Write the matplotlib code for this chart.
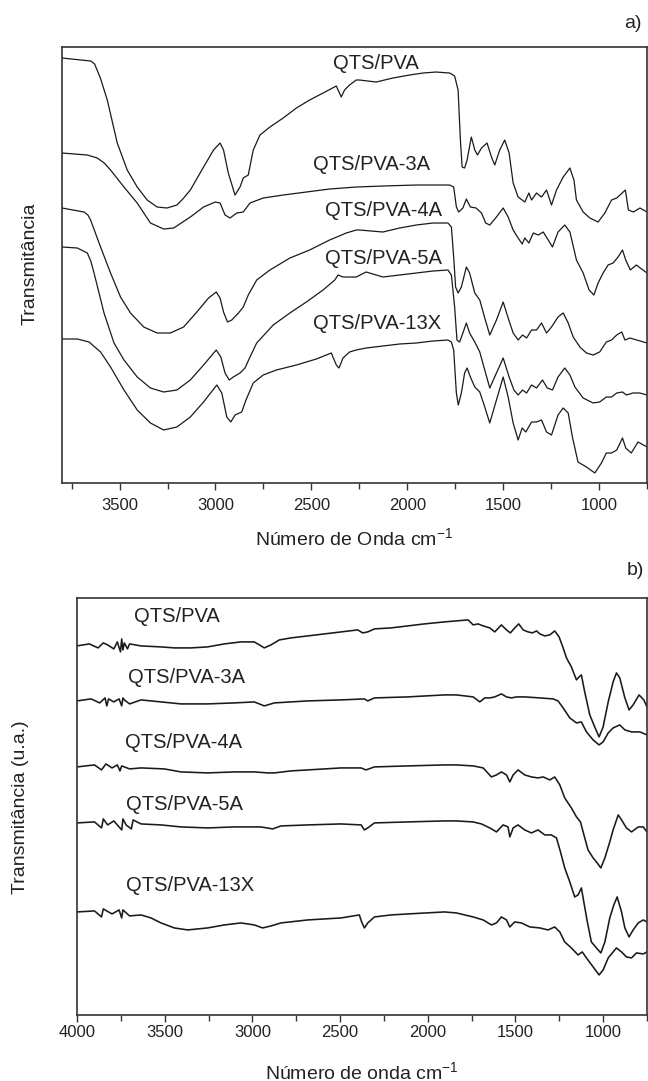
import matplotlib
matplotlib.use("Agg")
import matplotlib.pyplot as plt
from matplotlib.ticker import MultipleLocator

plt.rcParams['font.family'] = ['Liberation Sans', 'DejaVu Sans']
plt.rcParams['mathtext.default'] = 'regular'

# ---- panel a) FTIR spectra (wavenumber cm-1, transmittance in arbitrary units) ----
a_pva_wn = [3800, 3650, 3630, 3600, 3564, 3512, 3460, 3408, 3356, 3304, 3253, 3201, 3170, 3131, 3062, 3010, 2976,
            2958, 2933, 2898, 2872, 2855, 2829, 2803, 2768, 2716, 2647, 2578, 2509, 2439, 2370, 2344, 2327, 2301,
            2266, 2249, 2162, 2075, 1988, 1918, 1849, 1779, 1753, 1735, 1723, 1714, 1701, 1688, 1666, 1648, 1634,
            1613, 1584, 1561, 1544, 1518, 1492, 1469, 1448, 1422, 1387, 1366, 1352, 1326, 1300, 1274, 1248, 1222,
            1187, 1152, 1131, 1118, 1083, 1048, 1005, 970, 935, 908, 863, 847, 821, 787, 750]
a_pva = [425, 422, 419, 405, 383, 340, 313, 296, 283, 276, 275, 278, 284, 293, 316, 333, 340, 333, 310, 288, 296,
         305, 308, 333, 348, 356, 365, 375, 383, 390, 397, 386, 393, 398, 403, 403, 401, 405, 408, 410, 411, 410,
         407, 393, 343, 316, 315, 323, 346, 333, 328, 335, 340, 326, 318, 333, 343, 330, 300, 286, 281, 290, 283,
         290, 286, 293, 278, 293, 306, 315, 303, 283, 271, 265, 261, 270, 283, 285, 293, 273, 271, 275, 271]

a_3a_wn = [3800, 3668, 3616, 3580, 3547, 3477, 3408, 3339, 3270, 3218, 3131, 3062, 3001, 2976, 2950, 2924, 2889,
           2855, 2820, 2751, 2647, 2526, 2405, 2266, 2127, 1953, 1779, 1758, 1744, 1732, 1710, 1692, 1671, 1641,
           1613, 1591, 1570, 1535, 1500, 1474, 1448, 1422, 1401, 1387, 1366, 1343, 1317, 1291, 1265, 1243, 1214,
           1179, 1152, 1118, 1083, 1052, 1027, 1005, 979, 953, 927, 901, 878, 861, 837, 806, 750]
a_3a = [330, 328, 325, 320, 313, 296, 280, 260, 254, 255, 266, 276, 281, 280, 268, 265, 270, 271, 280, 285, 288,
        291, 294, 296, 297, 298, 298, 296, 276, 271, 275, 284, 276, 275, 270, 260, 258, 266, 275, 266, 253, 245,
        239, 245, 240, 250, 248, 251, 243, 236, 251, 258, 251, 223, 210, 193, 188, 200, 210, 218, 220, 226, 233,
        223, 213, 218, 210]

a_4a_wn = [3800, 3685, 3665, 3651, 3599, 3547, 3495, 3443, 3374, 3304, 3235, 3166, 3097, 3036, 2996, 2976, 2958,
           2937, 2915, 2880, 2855, 2829, 2785, 2716, 2612, 2509, 2405, 2318, 2266, 2249, 2127, 2040, 1953, 1866,
           1788, 1770, 1758, 1748, 1735, 1718, 1692, 1675, 1648, 1622, 1596, 1570, 1535, 1500, 1474, 1448, 1422,
           1399, 1378, 1352, 1326, 1300, 1274, 1248, 1214, 1187, 1161, 1135, 1100, 1066, 1031, 997, 962, 935, 908,
           882, 865, 839, 804, 750]
a_4a = [275, 271, 268, 263, 236, 210, 186, 170, 156, 150, 150, 156, 171, 185, 191, 185, 171, 161, 163, 170, 176,
        188, 203, 213, 225, 233, 243, 250, 253, 253, 251, 255, 258, 260, 260, 256, 226, 196, 190, 196, 216, 210,
        190, 183, 165, 148, 163, 181, 165, 150, 143, 148, 145, 153, 153, 160, 150, 156, 166, 170, 160, 146, 136,
        130, 128, 131, 141, 143, 148, 151, 143, 145, 143, 140]

a_5a_wn = [3800, 3720, 3668, 3650, 3633, 3581, 3529, 3477, 3408, 3339, 3270, 3201, 3131, 3062, 2996, 2972, 2950,
           2928, 2907, 2872, 2846, 2820, 2785, 2699, 2612, 2526, 2439, 2378, 2361, 2335, 2266, 2214, 2127, 2040,
           1953, 1866, 1788, 1770, 1753, 1741, 1727, 1710, 1692, 1675, 1648, 1622, 1596, 1570, 1535, 1500, 1469,
           1444, 1422, 1399, 1378, 1352, 1326, 1295, 1270, 1243, 1214, 1179, 1152, 1126, 1083, 1031, 997, 962, 935,
           908, 878, 858, 823, 788, 750]
a_5a = [236, 235, 230, 222, 210, 170, 140, 123, 106, 95, 91, 93, 103, 118, 133, 126, 110, 103, 106, 110, 115, 126,
        140, 158, 170, 181, 193, 203, 208, 206, 206, 211, 206, 208, 210, 212, 213, 208, 176, 143, 141, 150, 160,
        150, 141, 131, 113, 95, 110, 125, 106, 93, 88, 93, 90, 98, 95, 103, 95, 93, 106, 115, 108, 96, 85, 80, 81,
        86, 86, 90, 91, 88, 90, 90, 88]

a_13x_wn = [3800, 3720, 3659, 3599, 3547, 3477, 3408, 3339, 3270, 3201, 3131, 3062, 2993, 2967, 2941, 2920, 2898,
            2863, 2841, 2803, 2751, 2682, 2578, 2474, 2396, 2370, 2356, 2335, 2301, 2266, 2214, 2127, 2040, 1953,
            1866, 1788, 1770, 1758, 1744, 1734, 1718, 1701, 1688, 1671, 1648, 1622, 1596, 1570, 1535, 1500, 1474,
            1448, 1422, 1401, 1382, 1352, 1326, 1300, 1274, 1248, 1214, 1187, 1161, 1139, 1110, 1066, 1022, 988,
            962, 935, 908, 878, 861, 832, 797, 750]
a_13x = [144, 144, 141, 131, 116, 93, 73, 60, 53, 56, 66, 81, 98, 90, 66, 61, 68, 71, 83, 100, 108, 113, 118, 124,
         130, 118, 115, 125, 131, 133, 135, 137, 139, 140, 142, 143, 141, 133, 90, 78, 90, 110, 115, 106, 96, 91,
         76, 60, 83, 106, 86, 60, 43, 55, 51, 61, 61, 63, 51, 48, 68, 75, 70, 46, 21, 16, 10, 20, 30, 30, 33, 45,
         35, 30, 41, 36]

# ---- panel b) ----
b_pva_wn = [4000, 3930, 3880, 3850, 3825, 3790, 3770, 3752, 3745, 3738, 3730, 3712, 3700, 3635, 3521, 3445, 3350,
            3255, 3160, 3065, 2989, 2960, 2932, 2894, 2846, 2780, 2684, 2589, 2494, 2399, 2371, 2342, 2304, 2209,
            2114, 2019, 1905, 1837, 1770, 1741, 1713, 1684, 1646, 1618, 1580, 1551, 1529, 1504, 1481, 1456, 1428,
            1403, 1380, 1361, 1333, 1304, 1276, 1251, 1228, 1209, 1181, 1152, 1137, 1124, 1105, 1076, 1048, 1023,
            1000, 971, 943, 924, 905, 876, 852, 829, 795, 768, 750]
b_pva = [369, 371, 367, 372, 370, 366, 373, 363, 376, 365, 372, 366, 371, 369, 368, 367, 367, 368, 371, 373, 373,
         370, 367, 370, 375, 377, 379, 381, 383, 385, 382, 383, 386, 387, 389, 391, 393, 394, 395, 390, 391, 389,
         387, 383, 390, 385, 382, 387, 391, 385, 383, 382, 384, 381, 379, 380, 384, 378, 367, 357, 348, 335, 338,
         340, 323, 300, 288, 278, 288, 313, 333, 342, 337, 317, 305, 310, 320, 315, 308]

b_3a_wn = [4000, 3920, 3870, 3840, 3830, 3820, 3790, 3760, 3745, 3738, 3730, 3700, 3635, 3521, 3407, 3255, 3103,
           2989, 2932, 2875, 2684, 2494, 2361, 2342, 2304, 2114, 1905, 1837, 1741, 1703, 1675, 1646, 1618, 1580,
           1551, 1523, 1494, 1447, 1361, 1285, 1257, 1228, 1190, 1152, 1124, 1095, 1057, 1023, 1000, 971, 943, 905,
           876, 838, 790, 750]
b_3a = [314, 316, 312, 317, 309, 316, 313, 316, 309, 317, 315, 311, 315, 313, 311, 311, 312, 313, 309, 312, 314,
        315, 316, 314, 317, 318, 320, 320, 318, 313, 317, 317, 318, 321, 318, 317, 318, 318, 317, 316, 314, 307,
        297, 292, 293, 283, 275, 270, 273, 282, 287, 290, 285, 283, 283, 280]

b_4a_wn = [4000, 3900, 3860, 3835, 3800, 3770, 3755, 3745, 3700, 3635, 3502, 3407, 3255, 3103, 2989, 2913, 2875,
           2780, 2684, 2494, 2380, 2352, 2304, 2114, 1905, 1837, 1741, 1684, 1637, 1608, 1580, 1551, 1532, 1513,
           1485, 1447, 1409, 1371, 1342, 1304, 1276, 1247, 1219, 1181, 1152, 1129, 1114, 1086, 1057, 1038, 1013,
           990, 962, 943, 914, 895, 867, 838, 800, 771, 750]
b_4a = [248, 250, 245, 251, 247, 250, 244, 249, 246, 247, 246, 243, 242, 243, 243, 242, 242, 244, 245, 247, 247,
        245, 248, 249, 250, 250, 249, 247, 238, 240, 243, 240, 233, 240, 245, 240, 238, 237, 238, 235, 238, 230,
        217, 207, 198, 193, 183, 165, 157, 153, 147, 157, 173, 185, 200, 195, 187, 183, 188, 188, 183]

b_5a_wn = [4000, 3900, 3860, 3850, 3825, 3790, 3760, 3745, 3738, 3720, 3690, 3680, 3635, 3521, 3407, 3255, 3103,
           2951, 2884, 2837, 2684, 2494, 2380, 2361, 2342, 2304, 2114, 1905, 1837, 1741, 1694, 1646, 1608, 1570,
           1542, 1532, 1513, 1485, 1447, 1409, 1371, 1333, 1295, 1266, 1243, 1219, 1190, 1162, 1143, 1124, 1110,
           1090, 1067, 1038, 1013, 990, 962, 939, 920, 895, 876, 852, 829, 800, 771, 750]
b_5a = [192, 193, 187, 196, 190, 194, 188, 185, 196, 190, 186, 195, 191, 190, 188, 187, 188, 188, 186, 189, 190,
        191, 190, 185, 187, 192, 193, 194, 194, 193, 191, 187, 183, 190, 188, 178, 187, 190, 185, 182, 185, 180,
        180, 177, 163, 147, 133, 118, 120, 127, 113, 93, 73, 67, 62, 73, 97, 110, 118, 103, 87, 78, 85, 92, 95, 93]

b_13x_wn = [4000, 3900, 3860, 3850, 3800, 3760, 3745, 3738, 3700, 3635, 3578, 3521, 3445, 3369, 3255, 3160, 3065,
            2989, 2941, 2894, 2837, 2684, 2494, 2390, 2377, 2361, 2342, 2304, 2209, 2114, 1905, 1837, 1741, 1684,
            1637, 1608, 1580, 1551, 1532, 1504, 1466, 1418, 1361, 1314, 1276, 1247, 1219, 1181, 1143, 1119, 1095,
            1057, 1023, 1000, 971, 943, 924, 895, 867, 838, 810, 771, 750]
b_13x = [103, 104, 98, 106, 101, 105, 97, 105, 99, 100, 97, 92, 87, 85, 87, 90, 92, 90, 87, 89, 92, 95, 97, 100,
         93, 87, 92, 98, 100, 101, 103, 102, 98, 95, 90, 92, 98, 95, 88, 93, 92, 88, 87, 85, 88, 83, 73, 67, 60,
         63, 57, 48, 40, 45, 57, 63, 67, 63, 58, 57, 62, 61, 63]

# sample names and where their labels sit (wavenumber, transmittance)
names = ['QTS/PVA', 'QTS/PVA-3A', 'QTS/PVA-4A', 'QTS/PVA-5A', 'QTS/PVA-13X']
a_label_wn = [2163, 2184, 2126, 2126, 2158]
a_label_y = [420, 319, 273, 225, 160]
b_label_wn = [3430, 3373, 3390, 3390, 3355]
b_label_y = [398, 337, 272, 210, 129]

a_curves = [(a_pva_wn, a_pva), (a_3a_wn, a_3a), (a_4a_wn, a_4a), (a_5a_wn, a_5a), (a_13x_wn, a_13x)]
b_curves = [(b_pva_wn, b_pva), (b_3a_wn, b_3a), (b_4a_wn, b_4a), (b_5a_wn, b_5a), (b_13x_wn, b_13x)]

fig = plt.figure(figsize=(6.48, 10.81), dpi=100)
ax1 = fig.add_axes([0.0957, 0.5532, 0.9028, 0.4033])
ax2 = fig.add_axes([0.1188, 0.0611, 0.8796, 0.3858])


def style(ax, xlim, ylim, pad):
    ax.set_xlim(*xlim)
    ax.set_ylim(*ylim)
    ax.set_yticks([])
    ax.xaxis.set_major_locator(MultipleLocator(500))
    ax.xaxis.set_minor_locator(MultipleLocator(250))
    ax.tick_params(axis='x', which='major', direction='out', length=5, width=1, labelsize=12,
                   pad=pad, color='#333333', labelcolor='#222222')
    ax.tick_params(axis='x', which='minor', direction='out', length=4, width=1, color='#333333')
    for s in ax.spines.values():
        s.set_color('#333333')
        s.set_linewidth(1.2)


for (wn, t) in a_curves:
    ax1.plot(wn, t, color='#1a1a1a', lw=0.9)
for (wn, t) in b_curves:
    ax2.plot(wn, t, color='#1a1a1a', lw=1.15)

for name, x, y in zip(names, a_label_wn, a_label_y):
    ax1.text(x, y, name, fontsize=14.5, ha='center', va='center', color='#222222')
for name, x, y in zip(names, b_label_wn, b_label_y):
    ax2.text(x, y, name, fontsize=14.5, ha='center', va='center', color='#222222')

style(ax1, (3800, 750), (0, 436), 6)
style(ax2, (4000, 750), (0, 417), 2)

# axis titles placed directly on the figure
fig.text(0.547, 0.5023, 'Número de Onda cm$^{-1}$', fontsize=14, ha='center', va='center', color='#222222')
fig.text(0.559, 0.0083, 'Número de onda cm$^{-1}$', fontsize=14, ha='center', va='center', color='#222222')
fig.text(0.046, 0.7558, 'Transmitância', fontsize=14, rotation=90, ha='center', va='center', color='#222222')
fig.text(0.032, 0.2535, 'Transmitância (u.a.)', fontsize=14, rotation=90, ha='center', va='center',
         color='#222222')
fig.text(0.977, 0.9787, 'a)', fontsize=14, ha='center', va='center', color='#222222')
fig.text(0.981, 0.4727, 'b)', fontsize=14, ha='center', va='center', color='#222222')

fig.savefig('out.png', dpi=100)
